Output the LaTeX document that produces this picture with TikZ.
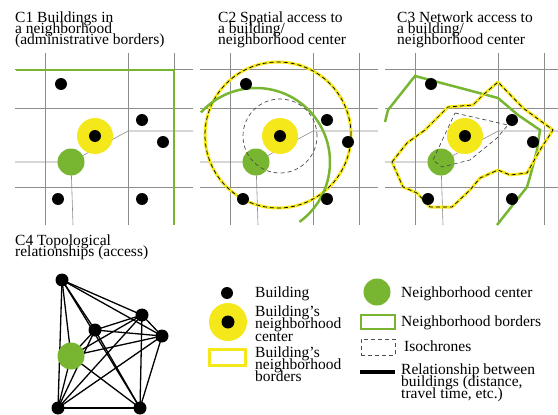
\documentclass[tikz,border=0pt]{standalone}
\usepackage{fontspec}
\setmainfont{Liberation Serif}
\usetikzlibrary{backgrounds}

\definecolor{nbgreen}{RGB}{120,182,50}
\definecolor{nbyellow}{RGB}{244,232,26}
\newcommand\titlefont{\fontsize{15.5}{11}\selectfont\lineskiplimit=-20pt}
\newcommand\legfont{\fontsize{15.5}{12}\selectfont\lineskiplimit=-20pt}

\tikzset{
  bldg/.style={circle, fill=black, inner sep=0pt, minimum size=12pt},
  bldghl/.style={circle, fill=nbyellow, inner sep=0pt, minimum size=36pt},
  nbcenter/.style={circle, fill=nbgreen, inner sep=0pt, minimum size=27pt},
  grid line/.style={black!45, line width=0.6pt},
  nbborder/.style={nbgreen, line width=2.5pt},
  isoline/.style={black!70, line width=0.7pt, dash pattern=on 4pt off 3pt},
  ybase/.style={nbyellow, line width=3pt},
  ydash/.style={black, line width=0.7pt, dash pattern=on 4pt off 3pt},
  link/.style={black, line width=1.3pt},
  paneltitle/.style={anchor=north west, inner sep=0pt, align=left, font=\titlefont},
  legtext/.style={anchor=north west, inner sep=0pt, align=left, font=\legfont},
}

\begin{document}
\begin{tikzpicture}[x=1pt, y=-1pt]
\useasboundingbox (0,0) rectangle (558,415);

% panel titles
\node[paneltitle] (t1) at (15,11.5) {C1 Buildings in\\a neighborhood\\(administrative borders)};
\node[paneltitle] (t2) at (218,11.5) {C2 Spatial access to\\a building/\\neighborhood center};
\node[paneltitle] (t3) at (397,11.5) {C3 Network access to\\a building/\\neighborhood center};
\node[paneltitle] (t4) at (15,234.5) {C4 Topological\\relationships (access)};

% the three map panels
\foreach \p/\dx in {1/0,2/185,3/370}{
  \node[bldg] (b\p a) at ({61+\dx},84) {};
  \node[bldg] (b\p b) at ({142+\dx},120) {};
  \node[bldg] (b\p c) at ({163+\dx},142) {};
  \node[bldg] (b\p d) at ({58+\dx},199) {};
  \node[bldg] (b\p e) at ({142+\dx},199) {};
  \node[bldghl] (y\p) at ({95+\dx},136) {};
  \node[bldg] (b\p y) at (y\p) {};
  \node[nbcenter] (c\p) at ({71+\dx},162) {};
  \begin{scope}[on background layer]
    \foreach \gy in {69,108,187}
      \draw[grid line] ({15+\dx},\gy) -- ({min(193+\dx,558)},\gy);
    \foreach \gx in {45,128,174}
      \draw[grid line] ({\gx+\dx},53) -- ({\gx+\dx},225);
    \draw[grid line] ({15+\dx},162) -- (c\p.center) -- ({128+\dx},131) -- ({min(193+\dx,558)},131);
    \draw[grid line] (c\p.center) -- ({73+\dx},225);
  \end{scope}
}

% C1 administrative border
\begin{scope}[on background layer]
  \draw[nbborder] (16,70) -- (174,70) -- (174,225);
\end{scope}

% C2 spatial access
\begin{scope}[on background layer]
  \draw[ybase] (278,135) circle[radius=73pt];
  \draw[ydash] (278,135) circle[radius=73pt];
  \draw[nbborder] (c2) ++(138:74pt) arc[start angle=138, end angle=-54, radius=74pt];
\end{scope}
\draw[isoline] (y2) circle[radius=37pt];

% C3 network access
\begin{scope}[on background layer]
  \draw[nbborder] (385,122) -- (388,110) -- (415,76) -- (498,98) -- (518,115)
    -- (540,130) -- (537,150) -- (530,177) -- (527,187) -- (497,225);
  \draw[ybase, line join=round] (392,162) -- (407,143) -- (425,130) -- (448,107)
    -- (473,105) -- (483,95) -- (498,82) -- (523,108) -- (553,130) -- (540,150)
    -- (527,173) -- (510,175) -- (498,170) -- (480,178) -- (470,190) -- (452,207)
    -- (430,207) -- (417,193) -- (403,187) -- cycle;
  \draw[ydash] (392,162) -- (407,143) -- (425,130) -- (448,107)
    -- (473,105) -- (483,95) -- (498,82) -- (523,108) -- (553,130) -- (540,150)
    -- (527,173) -- (510,175) -- (498,170) -- (480,178) -- (470,190) -- (452,207)
    -- (430,207) -- (417,193) -- (403,187) -- cycle;
\end{scope}
\draw[isoline] (455,113) -- (508,125) -- (497,138) -- (470,160) -- (442,167)
  -- (433,160) -- cycle;

% C4 topological relationships
\node[bldg, minimum size=13pt] (ta) at (62,280) {};
\node[bldg, minimum size=13pt] (tb) at (142,315) {};
\node[bldg, minimum size=13pt] (tc) at (95,330) {};
\node[bldg, minimum size=13pt] (td) at (162,336) {};
\node[nbcenter] (tg) at (71,356) {};
\node[bldg, minimum size=13pt] (te) at (58,408) {};
\node[bldg, minimum size=13pt] (tf) at (140,408) {};
\begin{scope}[on background layer]
  \foreach \s/\t in {ta/tb,ta/tc,ta/td,ta/tg,ta/te,ta/tf,tb/tc,tb/td,tb/tg,tb/te,
      tb/tf,tc/td,tc/tg,tc/te,tc/tf,td/tg,td/te,td/tf,tg/te,tg/tf,te/tf}
    \draw[link] (\s.center) -- (\t.center);
\end{scope}

% legend
\node[bldg] (lbldg) at (227,293) {};
\node[legtext] (lbldgtx) at (255,286.5) {Building};
\node[bldghl, minimum size=38pt] (lyel) at (228,322) {};
\node[bldg, minimum size=13pt] (lyeldot) at (lyel) {};
\node[legtext] (lyeltx) at (255,305.5) {Building's\\neighborhood\\[1pt]center};
\node[draw=nbyellow, line width=2.5pt, minimum width=36pt, minimum height=16pt,
  inner sep=0pt] (lybord) at (227.5,357.5) {};
\node[legtext] (lybordtx) at (255,346.5) {Building's\\neighborhood\\borders};

\node[nbcenter] (lcen) at (377,292) {};
\node[legtext] (lcentx) at (401,286.5) {Neighborhood center};
\node[draw=nbgreen, line width=2.8pt, minimum width=34pt, minimum height=14pt,
  inner sep=0pt] (lgbord) at (378,322) {};
\node[legtext] (lgbordtx) at (401,315.5) {Neighborhood borders};
\node[draw=black!70, line width=0.7pt, dash pattern=on 4pt off 3pt,
  minimum width=34pt, minimum height=16pt, inner sep=0pt] (liso) at (378,347) {};
\node[legtext] (lisotx) at (404,340.5) {Isochrones};
\coordinate (llinea) at (360,372);
\coordinate (llineb) at (395,372);
\draw[black, line width=3.5pt] (llinea) -- (llineb);
\node[legtext] (llinetx) at (401,363.5) {Relationship between\\buildings (distance,\\travel time, etc.)};
\end{tikzpicture}
\end{document}
